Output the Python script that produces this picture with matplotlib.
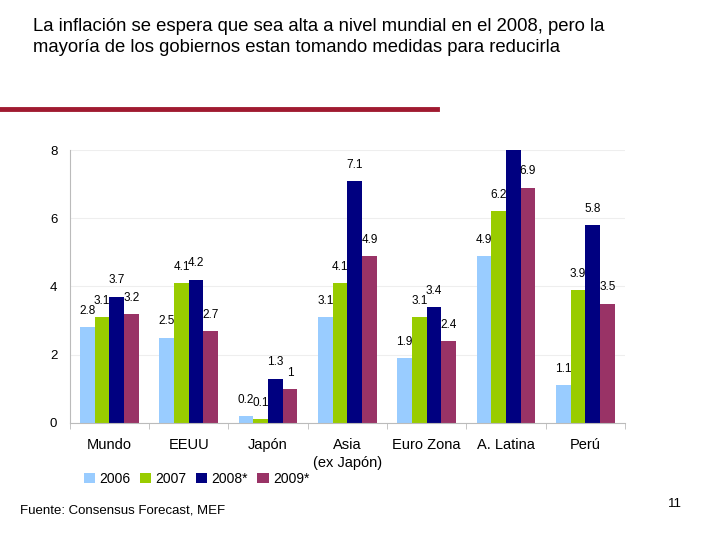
import matplotlib
matplotlib.use("Agg")
import matplotlib.pyplot as plt
import numpy as np

plt.rcParams["font.family"] = ["Liberation Sans", "DejaVu Sans"]

categories = ["Mundo", "EEUU", "Japón", "Asia\n(ex Japón)", "Euro Zona", "A. Latina", "Perú"]
series = ["2006", "2007", "2008*", "2009*"]
v2006 = [2.8, 2.5, 0.2, 3.1, 1.9, 4.9, 1.1]
v2007 = [3.1, 4.1, 0.1, 4.1, 3.1, 6.2, 3.9]
v2008 = [3.7, 4.2, 1.3, 7.1, 3.4, 8.1, 5.8]
v2009 = [3.2, 2.7, 1.0, 4.9, 2.4, 6.9, 3.5]
colors = ["#99ccff", "#99cc00", "#000080", "#993366"]

fig = plt.figure(figsize=(7.2, 5.4), dpi=100)

# encabezado de la lámina
fig.text(0.046, 0.967, "La inflación se espera que sea alta a nivel mundial en el 2008, pero la\n"
         "mayoría de los gobiernos estan tomando medidas para reducirla",
         fontsize=13.3, va="top", ha="left", linespacing=1.3)
fig.add_artist(plt.Line2D([0, 0.607], [0.798, 0.798], color="#a01a30", lw=3.5))
fig.text(0.028, 0.055, "Fuente: Consensus Forecast, MEF", fontsize=9.5, va="center")
fig.text(0.928, 0.066, "11", fontsize=9.5, va="center")

ax = fig.add_axes([0.097, 0.217, 0.771, 0.505])
x = np.arange(len(categories))
w = 0.185
for i, (vals, c, lab) in enumerate(zip([v2006, v2007, v2008, v2009], colors, series)):
    pos = x + (i - 1.5) * w
    ax.bar(pos, vals, width=w, color=c, label=lab, zorder=2)
    for px, v in zip(pos, vals):
        ax.text(px, v + 0.3, f"{v:g}", ha="center", va="bottom", fontsize=8.5, clip_on=True)

ax.set_ylim(0, 8)
ax.set_xlim(-0.5, len(categories) - 0.5)
ax.set_yticks([0, 2, 4, 6, 8])
ax.tick_params(axis="y", length=0, labelsize=9.5, pad=9)
ax.yaxis.grid(True, color="#eeeeee", lw=0.8, zorder=0)
ax.set_axisbelow(True)
ax.set_xticks(x)
ax.set_xticklabels(categories, fontsize=10.5, linespacing=1.35)
ax.tick_params(axis="x", length=0, pad=11)
ax.set_xticks(np.arange(-0.5, len(categories), 1), minor=True)
ax.tick_params(axis="x", which="minor", length=4, color="#bbbbbb")
for s in ["top", "right"]:
    ax.spines[s].set_visible(False)
ax.spines["left"].set_color("#bbbbbb")
ax.spines["bottom"].set_color("#bbbbbb")

ax.legend(loc="upper left", bbox_to_anchor=(0.015, -0.16), ncol=4, frameon=False,
          fontsize=10, handlelength=0.8, handleheight=0.8, handletextpad=0.3,
          columnspacing=0.7, borderaxespad=0)

fig.savefig("out.png", dpi=100)
